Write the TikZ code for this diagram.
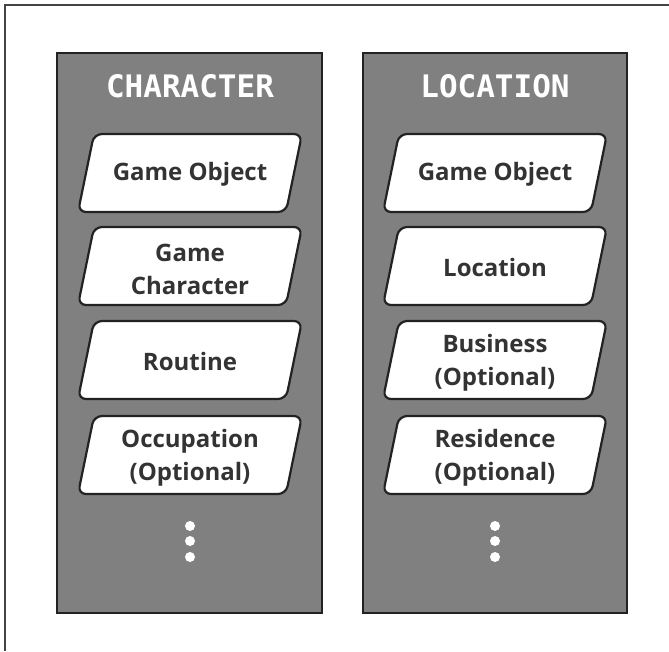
\documentclass[tikz,border=0pt]{standalone}
\usepackage{fontspec}
\setmainfont{Open Sans}
\newfontfamily\titlefont{DejaVu Sans Mono}
\usetikzlibrary{calc}
\definecolor{panelgray}{HTML}{808080}
\definecolor{edgedark}{HTML}{222222}
\definecolor{textdark}{HTML}{333333}
\definecolor{framegray}{HTML}{444444}
\tikzset{
  panel/.style={fill=panelgray, draw=edgedark, line width=2.5pt},
  ptitle/.style={text=white, font=\titlefont\bfseries\fontsize{31}{32}\selectfont},
  boxedge/.style={fill=white, draw=edgedark, line width=2.2pt, rounded corners=8pt},
  itemtext/.style={text=textdark, align=center, inner sep=0pt,
    font=\bfseries\fontsize{24}{33}\selectfont},
  twoline/.style={itemtext, yshift=-3pt}
}
\tikzset{dotmark/.style={circle, fill=white, minimum size=10pt, inner sep=0pt}}
\newcommand\pgram[1]{\draw[boxedge] ($(#1)+(-96,-39)$) -- ($(#1)+(112,-39)$) -- ($(#1)+(96,39)$) -- ($(#1)+(-112,39)$) -- cycle;}
\begin{document}
\begin{tikzpicture}[x=1pt,y=-1pt]
\useasboundingbox (0,0) rectangle (669,651);
\fill[white] (0,0) rectangle (669,651);
\coordinate (fa) at (5,651);
\coordinate (fb) at (5,5);
\coordinate (fc) at (669,5);
\draw[framegray, line width=1.3pt] (fa) -- (fb) -- (fc);

% panels
\draw[panel] (57,53) rectangle (322,613);
\draw[panel] (363,53) rectangle (627,613);

\node[ptitle] (t1) at (190,86) {CHARACTER};
\node[ptitle] (t2) at (495,86) {LOCATION};

\coordinate (p1) at (190,173);
\coordinate (p2) at (190,266);
\coordinate (p3) at (190,360);
\coordinate (p4) at (190,455);
\coordinate (q1) at (495,173);
\coordinate (q2) at (495,266);
\coordinate (q3) at (495,360);
\coordinate (q4) at (495,455);
\foreach \p in {p1,p2,p3,p4,q1,q2,q3,q4} {\pgram{\p}}

\node[itemtext, yshift=-1pt] (c1) at (p1) {Game Object};
\node[twoline] (c2) at (p2) {Game\\Character};
\node[itemtext, yshift=-1pt] (c3) at (p3) {Routine};
\node[twoline] (c4) at (p4) {Occupation\\(Optional)};

\node[itemtext, yshift=-1pt] (l1) at (q1) {Game Object};
\node[itemtext, yshift=-1pt] (l2) at (q2) {Location};
\node[twoline] (l3) at (q3) {Business\\(Optional)};
\node[twoline] (l4) at (q4) {Residence\\(Optional)};

\node[dotmark] (cd1) at (190,526) {};
\node[dotmark] (cd2) at (190,541) {};
\node[dotmark] (cd3) at (190,557) {};
\node[dotmark] (ld1) at (495,526) {};
\node[dotmark] (ld2) at (495,541) {};
\node[dotmark] (ld3) at (495,557) {};
\end{tikzpicture}
\end{document}
